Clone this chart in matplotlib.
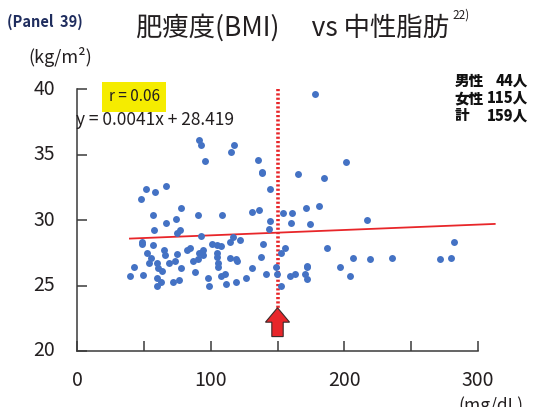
import matplotlib
matplotlib.use("Agg")
import matplotlib.pyplot as plt
from matplotlib.patches import FancyArrow

plt.rcParams["font.family"] = ["Noto Sans CJK JP", "DejaVu Sans"]

# triglyceride (mg/dL) vs BMI (kg/m2)
tg = [178.0, 91.2, 92.7, 95.7, 117.4, 115.2, 135.4, 138.4, 138.4, 165.3,
      144.4, 201.2, 184.7, 51.6, 58.3, 66.6, 47.9, 77.8, 56.8, 74.0,
      90.5, 108.5, 130.9, 136.1, 154.1, 160.8, 171.3, 181.0, 216.9, 66.6,
      144.4, 160.1, 174.3, 57.6, 74.8, 77.0, 92.7, 143.6, 187.0, 48.6,
      48.6, 56.8, 101.0, 104.7, 107.7, 114.4, 116.7, 121.9, 139.1, 155.6,
      152.6, 52.4, 65.1, 65.8, 74.8, 82.3, 84.5, 94.2, 91.2, 94.2,
      104.7, 104.7, 114.4, 118.9, 119.7, 137.6, 55.3, 53.9, 59.8, 60.6,
      68.8, 73.3, 77.8, 86.8, 90.5, 105.5, 105.5, 130.9, 148.8, 172.0,
      172.0, 42.6, 39.6, 49.4, 63.6, 59.8, 62.8, 59.8, 71.8, 76.3,
      88.3, 98.0, 98.7, 107.7, 110.7, 111.4, 118.9, 126.4, 141.4, 149.6,
      152.6, 159.3, 163.1, 170.5, 172.0, 196.7, 204.2, 206.4, 219.1, 235.6,
      271.5, 279.7, 282.0]
bmi = [39.6, 36.1, 35.7, 34.5, 35.7, 35.2, 34.6, 33.7, 33.6, 33.5,
       32.4, 34.4, 33.2, 32.4, 32.1, 32.6, 31.6, 30.9, 30.4, 30.1,
       30.4, 30.4, 30.6, 30.8, 30.5, 30.5, 30.9, 31.1, 30.0, 29.8,
       29.9, 29.8, 29.7, 29.2, 29.0, 29.2, 28.8, 29.3, 27.9, 28.3,
       28.2, 28.1, 28.2, 28.1, 28.0, 28.3, 28.7, 28.5, 28.2, 27.9,
       27.5, 27.5, 27.7, 27.3, 27.4, 27.7, 27.9, 27.7, 27.5, 27.3,
       27.5, 27.2, 27.1, 27.0, 26.9, 27.2, 27.1, 26.7, 26.7, 26.3,
       26.7, 26.9, 26.3, 26.9, 27.0, 26.7, 26.4, 26.3, 26.4, 26.5,
       26.4, 26.4, 25.7, 25.8, 26.1, 25.6, 25.3, 25.0, 25.3, 25.4,
       26.0, 25.6, 25.0, 25.7, 25.9, 25.1, 25.3, 25.6, 25.9, 25.9,
       25.0, 25.7, 25.9, 25.9, 25.5, 26.4, 25.7, 27.1, 27.0, 27.1,
       27.0, 27.1, 28.3]

slope = 0.0041
intercept = 28.419
r_value = 0.06
fit_x = [39.6, 312.5]
cutoff = 150

x_ticks = [0, 50, 100, 150, 200, 250, 300]
x_labels = ["0", "", "100", "", "200", "", "300"]
y_ticks = [20, 25, 30, 35, 40]

counts = [("男性", "44人"), ("女性", "115人"), ("計", "159人")]

ink = "#231f20"

fig = plt.figure(figsize=(5.4, 4.07), dpi=100)
ax = fig.add_axes([0.1426, 0.1376, 0.7426, 0.6437])

ax.scatter(tg, bmi, s=25, color="#4472c4", linewidths=0, zorder=3)

fit_y = [slope * v + intercept for v in fit_x]
ax.plot(fit_x, fit_y, color="#e8262a", lw=1.3, clip_on=False, zorder=2)

# cutoff marker
ax.plot([cutoff, cutoff], [40, 23.3], color="#e8262a", lw=2.6,
        linestyle=(0, (0.6, 0.6)), zorder=2)
ax.add_patch(FancyArrow(cutoff, 21.1, 0, 2.2, width=8.5, head_width=18,
                        head_length=1.1, length_includes_head=True,
                        facecolor="#e8262a", edgecolor="#3a2a2a", lw=0.8,
                        zorder=4))

ax.set_xlim(0, 300)
ax.set_ylim(20, 40)
ax.set_xticks(x_ticks)
ax.set_xticklabels(x_labels)
ax.set_yticks(y_ticks)
ax.set_yticklabels([])
ax.tick_params(direction="in", length=7, width=1.1, color="#3a3a3a",
               labelsize=14, labelcolor=ink, pad=14)
# y labels placed by hand, well clear of the spine
for v in y_ticks:
    ax.text(-0.055, v, str(v), transform=ax.get_yaxis_transform(),
            fontsize=14, color=ink, ha="right", va="center")
for side in ("top", "right"):
    ax.spines[side].set_visible(False)
for side in ("left", "bottom"):
    ax.spines[side].set_color("#3a3a3a")
    ax.spines[side].set_linewidth(1.1)

ax.text(0.143, 0.97, f"r = {r_value:.2f}", transform=ax.transAxes,
        fontsize=11, color=ink, va="center", ha="center",
        bbox=dict(boxstyle="square,pad=0.42", facecolor="#f5ec00", edgecolor="none"))
ax.text(-0.002, 0.88, f"y = {slope}x + {intercept}", transform=ax.transAxes,
        fontsize=12.5, color=ink, va="center", ha="left")

fig.text(0.013, 0.946, "(Panel  39)", fontsize=10.5, fontweight="bold",
         color="#1f2d5e", va="center", ha="left")
fig.text(0.252, 0.931, "肥痩度(BMI)　 vs 中性脂肪", fontsize=19,
         color=ink, va="center", ha="left")
fig.text(0.838, 0.962, "22)", fontsize=8.5, color=ink, va="center", ha="left")
fig.text(0.052, 0.86, "(kg/m²)", fontsize=13, color=ink, va="center", ha="left")
fig.text(0.848, 0.003, "(mg/dL)", fontsize=12.5, color=ink, va="center", ha="left")

for i, (label, num) in enumerate(counts):
    yy = 0.80 - i * 0.042
    fig.text(0.842, yy, label, fontsize=10.5, fontweight="heavy",
             color="#111111", va="center", ha="left")
    fig.text(0.978, yy, num, fontsize=10.5, fontweight="heavy",
             color="#111111", va="center", ha="right")

fig.savefig("out.png", dpi=100)
